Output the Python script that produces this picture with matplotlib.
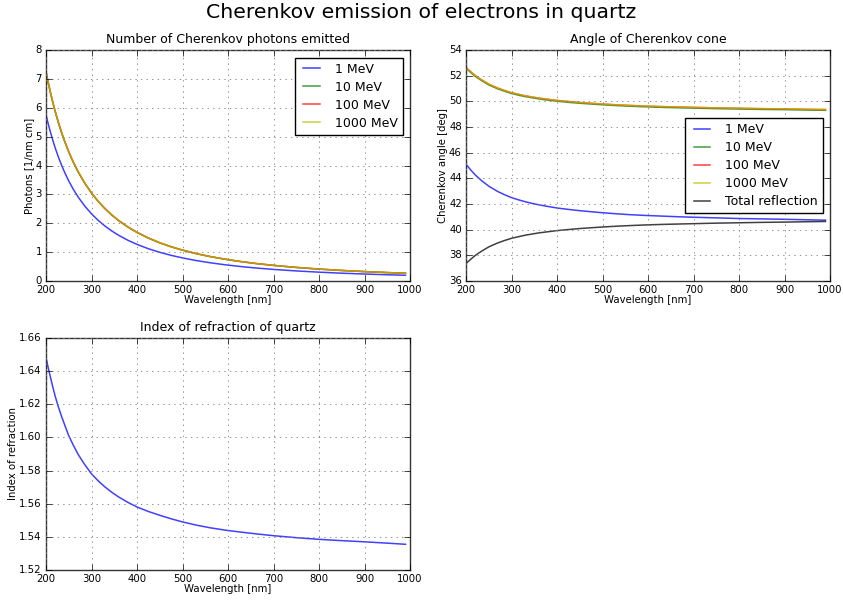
import matplotlib
matplotlib.use("Agg")
import matplotlib.pyplot as plt

plt.style.use("classic")

# Wavelength samples [nm]
wavelength = [200, 205, 210, 215, 220, 227, 235, 242, 250, 260, 270, 285, 300,
              315, 330, 345, 360, 380, 400, 425, 450, 475, 500, 530, 560, 595,
              630, 665, 700, 750, 800, 850, 900, 950, 990]

# Index of refraction of quartz
index_n = [1.648, 1.6418, 1.636, 1.6303, 1.625, 1.6185, 1.612, 1.6068, 1.601,
           1.5953, 1.590, 1.5836, 1.578, 1.5737, 1.570, 1.5668, 1.564, 1.5608,
           1.558, 1.5553, 1.553, 1.5509, 1.549, 1.5471, 1.5455, 1.5440, 1.5428,
           1.5417, 1.5407, 1.5395, 1.5385, 1.5377, 1.537, 1.5362, 1.5355]

# Photons emitted [1/nm cm]
photons_1 = [5.750, 5.432, 5.139, 4.868, 4.618, 4.301, 3.978, 3.725, 3.462,
             3.176, 2.922, 2.598, 2.326, 2.095, 1.898, 1.728, 1.580, 1.411,
             1.268, 1.118, 0.994, 0.889, 0.800, 0.709, 0.634, 0.560, 0.498,
             0.446, 0.402, 0.350, 0.307, 0.271, 0.242, 0.217, 0.199]
photons_10 = [7.228, 6.852, 6.499, 6.177, 5.874, 5.492, 5.097, 4.789, 4.465,
              4.110, 3.794, 3.388, 3.043, 2.750, 2.497, 2.279, 2.087, 1.868,
              1.682, 1.486, 1.322, 1.185, 1.068, 0.9486, 0.848, 0.7504, 0.669,
              0.5995, 0.5405, 0.4703, 0.4129, 0.3655, 0.3258, 0.2922, 0.2689]
photons_100 = [7.242, 6.863, 6.512, 6.187, 5.886, 5.501, 5.107, 4.797, 4.474,
               4.117, 3.802, 3.394, 3.049, 2.755, 2.502, 2.283, 2.091, 1.872,
               1.685, 1.489, 1.325, 1.187, 1.070, 0.9503, 0.850, 0.7518, 0.670,
               0.6006, 0.5415, 0.4712, 0.4137, 0.3662, 0.3264, 0.2928, 0.2694]
photons_1000 = [7.242, 6.863, 6.512, 6.187, 5.886, 5.501, 5.107, 4.797, 4.474,
                4.117, 3.802, 3.394, 3.049, 2.755, 2.502, 2.283, 2.091, 1.872,
                1.685, 1.489, 1.325, 1.187, 1.070, 0.9503, 0.850, 0.7518, 0.670,
                0.6006, 0.5415, 0.4712, 0.4137, 0.3662, 0.3264, 0.2928, 0.2694]

# Cherenkov angle [deg]
angle_1 = [45.09, 44.88, 44.67, 44.47, 44.28, 44.05, 43.80, 43.61, 43.39,
           43.18, 42.97, 42.72, 42.50, 42.33, 42.18, 42.05, 41.94, 41.81,
           41.69, 41.58, 41.48, 41.40, 41.32, 41.24, 41.17, 41.11, 41.06,
           41.01, 40.97, 40.92, 40.87, 40.84, 40.81, 40.77, 40.74]
angle_10 = [52.58, 52.42, 52.26, 52.11, 51.96, 51.78, 51.60, 51.45, 51.28,
            51.12, 50.97, 50.78, 50.61, 50.48, 50.37, 50.28, 50.19, 50.09,
            50.01, 49.92, 49.85, 49.79, 49.73, 49.67, 49.62, 49.57, 49.53,
            49.50, 49.47, 49.43, 49.40, 49.37, 49.35, 49.32, 49.30]
angle_100 = [52.64, 52.47, 52.32, 52.16, 52.02, 51.84, 51.66, 51.51, 51.34,
             51.18, 51.03, 50.84, 50.67, 50.55, 50.43, 50.34, 50.25, 50.16,
             50.07, 49.99, 49.91, 49.85, 49.79, 49.73, 49.68, 49.63, 49.59,
             49.56, 49.53, 49.49, 49.46, 49.43, 49.41, 49.38, 49.36]
angle_1000 = [52.64, 52.47, 52.32, 52.16, 52.02, 51.84, 51.66, 51.51, 51.34,
              51.18, 51.03, 50.84, 50.67, 50.55, 50.43, 50.34, 50.25, 50.16,
              50.07, 49.99, 49.91, 49.85, 49.79, 49.73, 49.68, 49.63, 49.59,
              49.56, 49.53, 49.49, 49.46, 49.43, 49.41, 49.38, 49.36]
angle_total_reflection = [37.36, 37.53, 37.68, 37.84, 37.98, 38.16, 38.34,
                          38.49, 38.66, 38.82, 38.97, 39.16, 39.33, 39.45,
                          39.57, 39.66, 39.75, 39.84, 39.93, 40.01, 40.09,
                          40.15, 40.21, 40.27, 40.32, 40.37, 40.41, 40.44,
                          40.47, 40.51, 40.54, 40.57, 40.59, 40.62, 40.64]

energy_labels = ["1 MeV", "10 MeV", "100 MeV", "1000 MeV"]
line_colors = ["b", "g", "r", "y"]

fig = plt.figure(figsize=(8.43, 6.01), dpi=100, facecolor="white")
fig.suptitle("Cherenkov emission of electrons in quartz", fontsize=14.7,
             y=0.980, va="center")

ax1 = fig.add_axes([0.0546, 0.5324, 0.4318, 0.3844])
ax2 = fig.add_axes([0.5528, 0.5324, 0.4318, 0.3844])
ax3 = fig.add_axes([0.0546, 0.0516, 0.4318, 0.386])

alpha = 0.75
lw = 1.1
lab_fs = 7.3
leg_kw = dict(fontsize=9, fancybox=False, framealpha=1, handlelength=1.9,
              handletextpad=0.9, borderaxespad=0.6, labelspacing=0.4)

for ys, lab, c in zip([photons_1, photons_10, photons_100, photons_1000],
                      energy_labels, line_colors):
    ax1.plot(wavelength, ys, color=c, label=lab, alpha=alpha, lw=lw)
ax1.set_xlim(200, 1000)
ax1.set_ylim(0, 8)
ax1.set_title("Number of Cherenkov photons emitted", fontsize=9)
ax1.set_xlabel("Wavelength [nm]", fontsize=lab_fs, labelpad=0)
ax1.set_ylabel("Photons [1/nm cm]", fontsize=lab_fs, labelpad=1)
ax1.legend(loc="upper right", **leg_kw)

for ys, lab, c in zip([angle_1, angle_10, angle_100, angle_1000],
                      energy_labels, line_colors):
    ax2.plot(wavelength, ys, color=c, label=lab, alpha=alpha, lw=lw)
ax2.plot(wavelength, angle_total_reflection, color="k", alpha=alpha, lw=lw,
         label="Total reflection")
ax2.set_xlim(200, 1000)
ax2.set_ylim(36, 54)
ax2.set_title("Angle of Cherenkov cone", fontsize=9)
ax2.set_xlabel("Wavelength [nm]", fontsize=lab_fs, labelpad=0)
ax2.set_ylabel("Cherenkov angle [deg]", fontsize=lab_fs, labelpad=1)
ax2.legend(loc="center right", **leg_kw)

ax3.plot(wavelength, index_n, color="b", alpha=alpha, lw=lw)
ax3.set_xlim(200, 1000)
ax3.set_ylim(1.52, 1.66)
ax3.set_title("Index of refraction of quartz", fontsize=9)
ax3.set_xlabel("Wavelength [nm]", fontsize=lab_fs, labelpad=0)
ax3.set_ylabel("Index of refraction", fontsize=lab_fs, labelpad=1)

for ax in (ax1, ax2, ax3):
    ax.grid(True, color="0.5", linestyle=":", linewidth=0.6)
    ax.tick_params(labelsize=lab_fs, pad=3)
    for s in ax.spines.values():
        s.set_color("0.2")

fig.savefig("out.png", dpi=100, facecolor="white")
